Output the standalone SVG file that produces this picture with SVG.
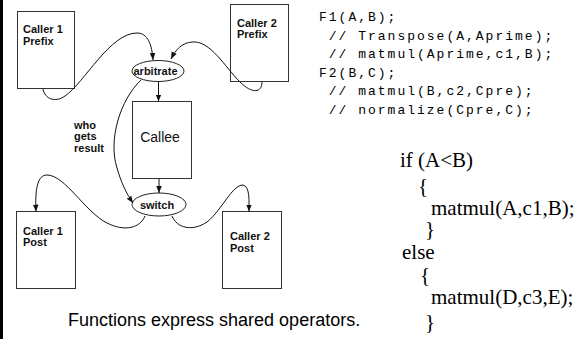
<svg xmlns="http://www.w3.org/2000/svg" width="580" height="339" viewBox="0 0 580 339">
<defs>
<style>
.box{fill:#fff;stroke:#333;stroke-width:1}
.ell{fill:#fff;stroke:#222;stroke-width:1}
.lbl{font-family:"Liberation Sans",Arial,sans-serif;font-weight:bold;font-size:11px;fill:#111}
.big{font-family:"Liberation Sans",Arial,sans-serif;font-size:14px;fill:#111}
.cap{font-family:"Liberation Sans",Arial,sans-serif;font-size:18px;fill:#000}
.code{font-family:"Liberation Mono","Courier New",monospace;font-size:13px;letter-spacing:2px;fill:#000;white-space:pre}
.ser{font-family:"Liberation Serif","Times New Roman",serif;font-size:21px;fill:#000}
.con{fill:none;stroke:#111;stroke-width:1}
</style>
<marker id="ah" viewBox="0 0 10 10" refX="10" refY="5" markerWidth="7" markerHeight="7" orient="auto" markerUnits="userSpaceOnUse">
<path d="M0,1 L10,5 L0,9 z" fill="#111"/>
</marker>
</defs>
<rect x="0" y="0" width="580" height="339" fill="#fff"/>
<rect x="0" y="0" width="3" height="339" fill="#000"/>

<g id="caller1-prefix">
<rect class="box" x="17.5" y="11.5" width="57" height="77"/>
<text class="lbl" x="23" y="33">Caller 1</text>
<text class="lbl" x="23" y="45">Prefix</text>
</g>
<g id="caller2-prefix">
<rect class="box" x="230.5" y="4.5" width="58" height="77"/>
<text class="lbl" x="237" y="27">Caller 2</text>
<text class="lbl" x="237" y="38">Prefix</text>
</g>
<g id="arbitrate">
<ellipse class="ell" cx="158" cy="71" rx="26" ry="10.5"/>
<text class="lbl" x="155.5" y="74.5" text-anchor="middle">arbitrate</text>
</g>
<g id="callee">
<rect class="box" x="132.5" y="101.5" width="59" height="77"/>
<text class="big" x="160" y="142" text-anchor="middle">Callee</text>
</g>
<g id="switch">
<ellipse class="ell" cx="159" cy="204.5" rx="27" ry="11.5"/>
<text class="lbl" x="157" y="208.5" text-anchor="middle">switch</text>
</g>
<g id="caller1-post">
<rect class="box" x="16.5" y="211.5" width="59" height="77"/>
<text class="lbl" x="23" y="235">Caller 1</text>
<text class="lbl" x="23" y="246">Post</text>
</g>
<g id="caller2-post">
<rect class="box" x="222.5" y="211.5" width="59" height="77"/>
<text class="lbl" x="230" y="240">Caller 2</text>
<text class="lbl" x="230" y="252">Post</text>
</g>

<g id="connectors">
<path class="con" marker-end="url(#ah)" d="M43,89 C45,99 55,103 65,96 C85,82 110,33 137,33 C148,33 152,45 153,60"/>
<path class="con" marker-end="url(#ah)" d="M262,82 C262,93 252,94 240,82 C225,67 210,40 192,42 C182,43 176,49 171,59"/>
<path class="con" marker-end="url(#ah)" d="M158.5,81.5 L158.5,101.5"/>
<path class="con" marker-end="url(#ah)" d="M141,80 C120,100 108,140 117,168 C121,182 126,193 133,203"/>
<path class="con" marker-end="url(#ah)" d="M159,178.5 L159,193"/>
<path class="con" marker-end="url(#ah)" d="M145,216 C140,228 125,232 107,223 C85,212 65,175 47,175 C37,175 35,190 36,211.5"/>
<path class="con" marker-end="url(#ah)" d="M172,216 C177,228 192,232 207,222 C222,210 232,185 243,185 C250,187 249,200 249,211.5"/>
</g>

<g id="note">
<text class="lbl" x="74" y="129">who</text>
<text class="lbl" x="74" y="140">gets</text>
<text class="lbl" x="74" y="152">result</text>
</g>

<text class="cap" x="68" y="326">Functions express shared operators.</text>

<g id="code">
<text class="code" x="319" y="21">F1(A,B);</text>
<text class="code" x="319" y="39.5"> // Transpose(A,Aprime);</text>
<text class="code" x="319" y="58"> // matmul(Aprime,c1,B);</text>
<text class="code" x="319" y="76.5">F2(B,C);</text>
<text class="code" x="319" y="95"> // matmul(B,c2,Cpre);</text>
<text class="code" x="319" y="113.5"> // normalize(Cpre,C);</text>
</g>

<g id="ifelse">
<text class="ser" x="400" y="167">if (A&lt;B)</text>
<text class="ser" x="418" y="193">{</text>
<text class="ser" x="431" y="215">matmul(A,c1,B);</text>
<text class="ser" x="425" y="235.5">}</text>
<text class="ser" x="402" y="259">else</text>
<text class="ser" x="420" y="282">{</text>
<text class="ser" x="431" y="304">matmul(D,c3,E);</text>
<text class="ser" x="425" y="329">}</text>
</g>
</svg>
